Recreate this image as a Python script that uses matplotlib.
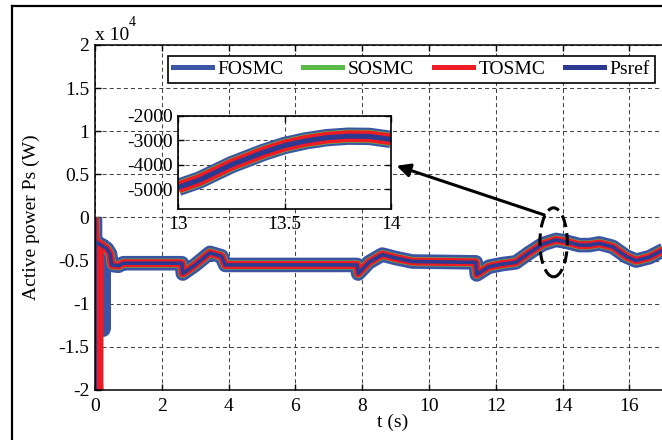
import matplotlib
matplotlib.use("Agg")
from matplotlib import pyplot as plt
from matplotlib.lines import Line2D
from matplotlib.patches import Ellipse

plt.rcParams["font.family"] = ["Liberation Serif", "DejaVu Serif"]
plt.rcParams["axes.unicode_minus"] = False

# stator active power, units of 1e4 W
t_body = [0.35, 0.45, 0.5, 0.7, 0.85, 2.6, 2.63, 3.0, 3.44, 3.79, 3.9, 7.85, 7.88,
          8.2, 8.6, 9.0, 9.5, 11.4, 11.43, 11.8, 12.2, 12.6, 13.0, 13.4, 13.8, 14.1,
          14.5, 14.8, 15.1, 15.5, 15.9, 16.2, 16.6, 17.0, 17.4]
p_body = [-0.36, -0.42, -0.55, -0.56, -0.53, -0.53, -0.65, -0.55, -0.41, -0.45, -0.55,
          -0.55, -0.65, -0.52, -0.43, -0.47, -0.51, -0.52, -0.66, -0.57, -0.54, -0.52,
          -0.41, -0.31, -0.26, -0.28, -0.32, -0.32, -0.30, -0.34, -0.45, -0.50, -0.46,
          -0.38, -0.32]

# start-up transients of each controller
t_fosmc = [0, 0.01, 0.02, 0.24, 0.25, 0.26] + t_body
p_fosmc = [0, -2.05, -0.28, -0.33, -1.3, -0.34] + p_body
t_sosmc = [0, 0.04, 0.06] + t_body
p_sosmc = [0, -2.05, -0.29] + p_body
t_tosmc = [0, 0.13, 0.14] + t_body
p_tosmc = [0, -2.05, -0.30] + p_body
t_ref = [0, 0.005, 0.01] + t_body
p_ref = [0, -2.05, -0.28] + p_body

# zoomed window 13 s - 14 s, in W
t_zoom = [13.0, 13.1, 13.25, 13.4, 13.5, 13.6, 13.7, 13.8, 13.9, 14.0]
p_zoom = [-4920, -4620, -4000, -3500, -3220, -3030, -2900, -2840, -2850, -2970]

names = ["FOSMC", "SOSMC", "TOSMC", "Psref"]
colors = ["#3a55a4", "#5bba47", "#ed1c24", "#2b3990"]
widths = [10.5, 6.6, 5.8, 2.6]
zoom_widths = [12.5, 9.5, 8.5, 3.6]

grid_kw = dict(color="#444444", linestyle=(0, (3.9, 2.9)), linewidth=0.75)
fs = 14

fig = plt.figure(figsize=(6.62, 4.4), dpi=100)

# frame around the whole figure
fig.add_artist(Line2D([12.3 / 662, 12.3 / 662], [0, 1 - 5.7 / 440], color="black", lw=1.6))
fig.add_artist(Line2D([12.3 / 662, 1], [1 - 5.7 / 440, 1 - 5.7 / 440], color="black", lw=1.6))

ax = fig.add_axes([95 / 662, 1 - 390 / 440, 601.2 / 662, 345 / 440])
series = [(t_fosmc, p_fosmc), (t_sosmc, p_sosmc), (t_tosmc, p_tosmc), (t_ref, p_ref)]
for (tt, pp), c, w in zip(series, colors, widths):
    ax.plot(tt, pp, color=c, lw=w, solid_joinstyle="round", solid_capstyle="butt")

ax.set_xlim(0, 18)
ax.set_ylim(-2, 2)
ax.set_xticks(range(0, 17, 2))
ax.set_yticks([-2, -1.5, -1, -0.5, 0, 0.5, 1, 1.5, 2])
ax.set_yticklabels(["-2", "-1.5", "-1", "-0.5", "0", "0.5", "1", "1.5", "2"])
ax.tick_params(direction="in", length=4, width=1, top=True, right=True, labelsize=fs)
ax.tick_params(axis="x", pad=6)
ax.tick_params(axis="y", pad=4)
ax.grid(True, **grid_kw)
for s in ax.spines.values():
    s.set_linewidth(1.1)

ax.set_xlabel("t (s)", fontsize=fs)
ax.xaxis.set_label_coords(0.4957, -0.069)
ax.set_ylabel("Active power Ps (W)", fontsize=fs)
ax.yaxis.set_label_coords(-0.092, 0.5)

fig.text(95 / 662, 1 - 40 / 440, "x 10", fontsize=fs, va="baseline")
fig.text(129 / 662, 1 - 26 / 440, "4", fontsize=10, va="baseline")

handles = [Line2D([], [], color=c, lw=3.6) for c in colors]
leg = ax.legend(handles, names, ncol=4, loc="lower left",
                bbox_to_anchor=(0.1214, 0.8899, 0.81, 0.0898), mode="expand",
                borderaxespad=0, fancybox=False, framealpha=1, edgecolor="black",
                fontsize=fs, handlelength=2.0, handletextpad=0.3, borderpad=0.25)
leg.get_frame().set_linewidth(1.2)

ax.add_patch(Ellipse((13.73, -0.288), 0.82, 0.80, fill=False, edgecolor="black",
                     lw=2.2, linestyle=(0, (4, 2)), zorder=5))
ax.annotate("", xy=(9.03, 0.60), xytext=(13.45, 0.03),
            arrowprops=dict(arrowstyle="-|>", lw=2.2, color="black",
                            mutation_scale=20, shrinkA=0, shrinkB=0), zorder=6)

# inset with the 13-14 s detail
axi = fig.add_axes([178.3 / 662, 1 - 209.3 / 440, 212.4 / 662, 93.8 / 440])
for c, w in zip(colors, zoom_widths):
    axi.plot(t_zoom, p_zoom, color=c, lw=w, solid_capstyle="butt")
axi.set_xlim(13, 14)
axi.set_ylim(-5810, -2000)
axi.set_xticks([13, 13.5, 14])
axi.set_xticklabels(["13", "13.5", "14"])
axi.set_yticks([-5000, -4000, -3000, -2000])
axi.tick_params(direction="in", length=4, width=1, top=True, right=True, labelsize=fs)
axi.tick_params(axis="x", pad=5)
axi.tick_params(axis="y", pad=4)
axi.grid(True, **grid_kw)
for s in axi.spines.values():
    s.set_linewidth(1.2)

fig.savefig("out.png", dpi=100)
